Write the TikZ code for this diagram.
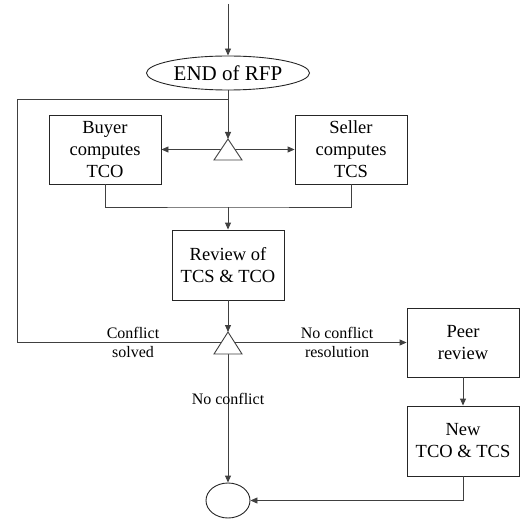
\documentclass[tikz,border=0pt]{standalone}
\usepackage{fontspec}
\setmainfont{Liberation Serif}
\usetikzlibrary{arrows.meta,shapes.geometric}
\begin{document}
\begin{tikzpicture}[x=1pt,y=-1pt,
  line width=0.9pt,
  conn/.style={draw=black!75},
  arr/.style={conn,-{Triangle[length=7pt,width=6pt]}},
  box/.style={draw=black!85,rectangle,minimum width=112pt,inner sep=0pt,align=center,
     font=\fontsize{18.5pt}{22pt}\selectfont},
  lbl/.style={inner sep=0pt,align=center,font=\fontsize{16pt}{19pt}\selectfont},
  tri/.style={draw=black!75,fill=white}]
\useasboundingbox (0,0) rectangle (520,521);
% nodes
\coordinate (start) at (228,4);
\node[draw=black!85,ellipse,minimum width=163pt,minimum height=34pt,inner sep=0pt,
      font=\fontsize{21pt}{24pt}\selectfont] (rfp) at (228,73) {END of RFP};
\node[box,minimum height=69pt] (buyer) at (105,149.5) {Buyer\\computes\\TCO};
\node[box,minimum height=69pt] (seller) at (351,149.5) {Seller\\computes\\TCS};
\node[box,minimum height=70pt] (review) at (228,265) {Review of\\TCS \& TCO};
\node[box,minimum height=69pt] (peer) at (463,342.5) {Peer\\review};
\node[box,minimum height=70pt] (new) at (463,441) {New\\TCO \& TCS};
\node[draw=black!85,ellipse,minimum width=44pt,minimum height=35pt,inner sep=0pt] (end) at (228,500.5) {};
% triangle points
\coordinate (t1top) at (228,139);
\coordinate (t1c) at (228,149.5);
\coordinate (t2top) at (228,332);
\coordinate (t2c) at (228,342.5);
\coordinate (loopjoin) at (228,99);
\coordinate (loopleft) at (17,342.5);
\coordinate (merge) at (228,207);
% connectors
\draw[arr] (start) -- (rfp.north);
\draw[arr] (rfp.south) -- (t1top);
\draw[conn] (t2c) -- (loopleft) |- (loopjoin);
\draw[conn,{Triangle[length=7pt,width=6pt]}-{Triangle[length=7pt,width=6pt]}] (buyer.east) -- (seller.west);
\draw[conn] (buyer.south) |- (merge) -| (seller.south);
\draw[arr] (merge) -- (review.north);
\draw[arr] (review.south) -- (t2top);
\draw[arr] (t2c) -- (peer.west);
\draw[arr] (t2c) -- (end.north);
\draw[arr] (peer.south) -- (new.north);
\draw[arr] (new.south) |- (end.east);
% triangles
\draw[tri] (214,160) -- (t1top) -- (242,160) -- cycle;
\draw[tri] (214,354) -- (t2top) -- (242,354) -- cycle;
% labels
\node[lbl] (lsolved) at (133,342.5) {Conflict\\solved};
\node[lbl] (lres) at (337,342.5) {No conflict\\resolution};
\node[lbl] (lnoc) at (228,399) {No conflict};
\end{tikzpicture}
\end{document}
